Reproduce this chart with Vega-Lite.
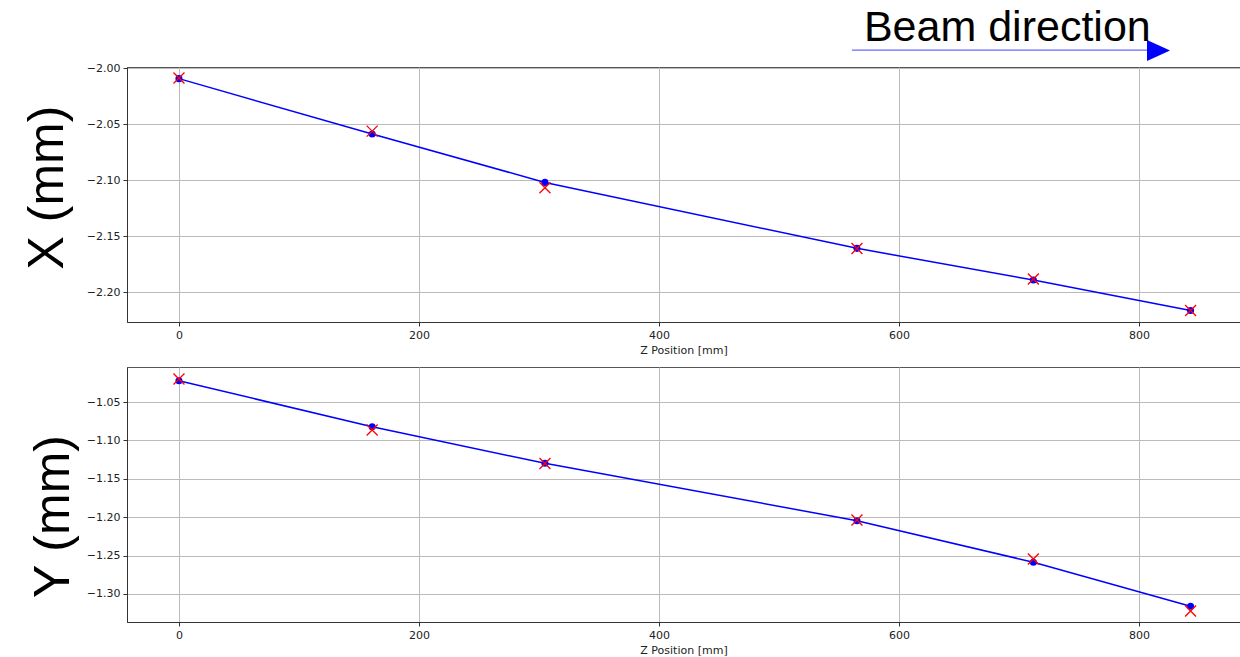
{
  "$schema": "https://vega.github.io/schema/vega-lite/v6.json",
  "padding": {"left": 21, "top": 6, "right": 0, "bottom": 0},
  "background": "white",
  "spacing": 10,
  "config": {
    "view": {"stroke": "#555555", "strokeWidth": 1},
    "axis": {
      "labelFont": "DejaVu Sans", "labelFontSize": 11, "labelColor": "#222222",
      "titleFont": "DejaVu Sans", "titleFontWeight": "normal", "titleColor": "#222222",
      "gridColor": "#bbbbbb", "gridWidth": 1, "tickColor": "#333333", "tickSize": 4,
      "domainColor": "#333333", "labelPadding": 3
    }
  },
  "datasets": {
    "pts": [
      {"z": 0, "x_fit": -2.0094, "x_meas": -2.0089, "y_fit": -1.0223, "y_meas": -1.0201},
      {"z": 161, "x_fit": -2.0589, "x_meas": -2.0563, "y_fit": -1.0822, "y_meas": -1.0865},
      {"z": 305, "x_fit": -2.1021, "x_meas": -2.1069, "y_fit": -1.1298, "y_meas": -1.1301},
      {"z": 565, "x_fit": -2.1610, "x_meas": -2.1612, "y_fit": -1.2046, "y_meas": -1.2036},
      {"z": 712, "x_fit": -2.1893, "x_meas": -2.1884, "y_fit": -1.2587, "y_meas": -1.2544},
      {"z": 843, "x_fit": -2.2165, "x_meas": -2.2165, "y_fit": -1.3160, "y_meas": -1.3221}
    ],
    "ann_text": [{"z": 570.8, "v": -1.9759, "label": "Beam direction"}],
    "ann_line": [{"z": 560.8, "z2": 809.2, "v": -1.9839}],
    "ann_head": [{"z": 816.3, "v": -1.9843}]
  },
  "vconcat": [
    {
      "width": 1113,
      "height": 255,
      "encoding": {
        "x": {"field": "z", "type": "quantitative",
              "scale": {"domain": [-43.3, 884.2], "nice": false, "zero": false},
              "axis": {"values": [0, 200, 400, 600, 800], "title": "Z Position [mm]", "titleFontSize": 11, "titlePadding": 4}}
      },
      "layer": [
        {
          "data": {"name": "pts"},
          "mark": {"type": "line", "color": "#0000ff", "strokeWidth": 1.5},
          "encoding": {
            "y": {"field": "x_fit", "type": "quantitative", "title": "X (mm)",
                  "scale": {"domain": [-2.2268, -1.999], "nice": false, "zero": false},
                  "axis": {"values": [-2.2, -2.15, -2.1, -2.05, -2.0], "format": ".2f",
                           "labelExpr": "replace(datum.label, '-', '\u2212')",
                           "titleFont": "Liberation Sans", "titleFontSize": 50, "titleColor": "black", "titlePadding": 14, "titleY": 120}}
          }
        },
        {
          "data": {"name": "pts"},
          "mark": {"type": "point", "filled": true, "color": "#0000ff", "size": 50, "opacity": 1},
          "encoding": {"y": {"field": "x_fit", "type": "quantitative", "title": "X (mm)"}}
        },
        {
          "data": {"name": "pts"},
          "mark": {"type": "point", "shape": "M-1,-1L1,1M-1,1L1,-1", "filled": false, "color": "#ff0000", "strokeWidth": 1.3, "size": 121, "opacity": 1},
          "encoding": {"y": {"field": "x_meas", "type": "quantitative", "title": "X (mm)"}}
        },
        {
          "data": {"name": "ann_line"},
          "mark": {"type": "rule", "color": "#4040ff", "strokeWidth": 1},
          "encoding": {"x2": {"field": "z2"}, "y": {"field": "v", "type": "quantitative", "title": "X (mm)"}}
        },
        {
          "data": {"name": "ann_head"},
          "mark": {"type": "point", "shape": "M-1,-0.91L1,0L-1,0.91Z", "filled": true, "color": "#0000ff", "size": 529, "opacity": 1},
          "encoding": {"y": {"field": "v", "type": "quantitative", "title": "X (mm)"}}
        },
        {
          "data": {"name": "ann_text"},
          "mark": {"type": "text", "align": "left", "baseline": "alphabetic", "font": "Liberation Sans", "fontSize": 43, "color": "black"},
          "encoding": {"y": {"field": "v", "type": "quantitative", "title": "X (mm)"}, "text": {"field": "label"}}
        }
      ]
    },
    {
      "width": 1113,
      "height": 255,
      "data": {"name": "pts"},
      "encoding": {
        "x": {"field": "z", "type": "quantitative",
              "scale": {"domain": [-43.3, 884.2], "nice": false, "zero": false},
              "axis": {"values": [0, 200, 400, 600, 800], "title": "Z Position [mm]", "titleFontSize": 11, "titlePadding": 4}}
      },
      "layer": [
        {
          "mark": {"type": "line", "color": "#0000ff", "strokeWidth": 1.5},
          "encoding": {
            "y": {"field": "y_fit", "type": "quantitative", "title": "Y (mm)",
                  "scale": {"domain": [-1.3365, -1.0044], "nice": false, "zero": false},
                  "axis": {"values": [-1.3, -1.25, -1.2, -1.15, -1.1, -1.05], "format": ".2f",
                           "labelExpr": "replace(datum.label, '-', '\u2212')",
                           "titleFont": "Liberation Sans", "titleFontSize": 50, "titleColor": "black", "titlePadding": 8, "titleY": 149}}
          }
        },
        {
          "mark": {"type": "point", "filled": true, "color": "#0000ff", "size": 50, "opacity": 1},
          "encoding": {"y": {"field": "y_fit", "type": "quantitative", "title": "Y (mm)"}}
        },
        {
          "mark": {"type": "point", "shape": "M-1,-1L1,1M-1,1L1,-1", "filled": false, "color": "#ff0000", "strokeWidth": 1.3, "size": 121, "opacity": 1},
          "encoding": {"y": {"field": "y_meas", "type": "quantitative", "title": "Y (mm)"}}
        }
      ]
    }
  ]
}
